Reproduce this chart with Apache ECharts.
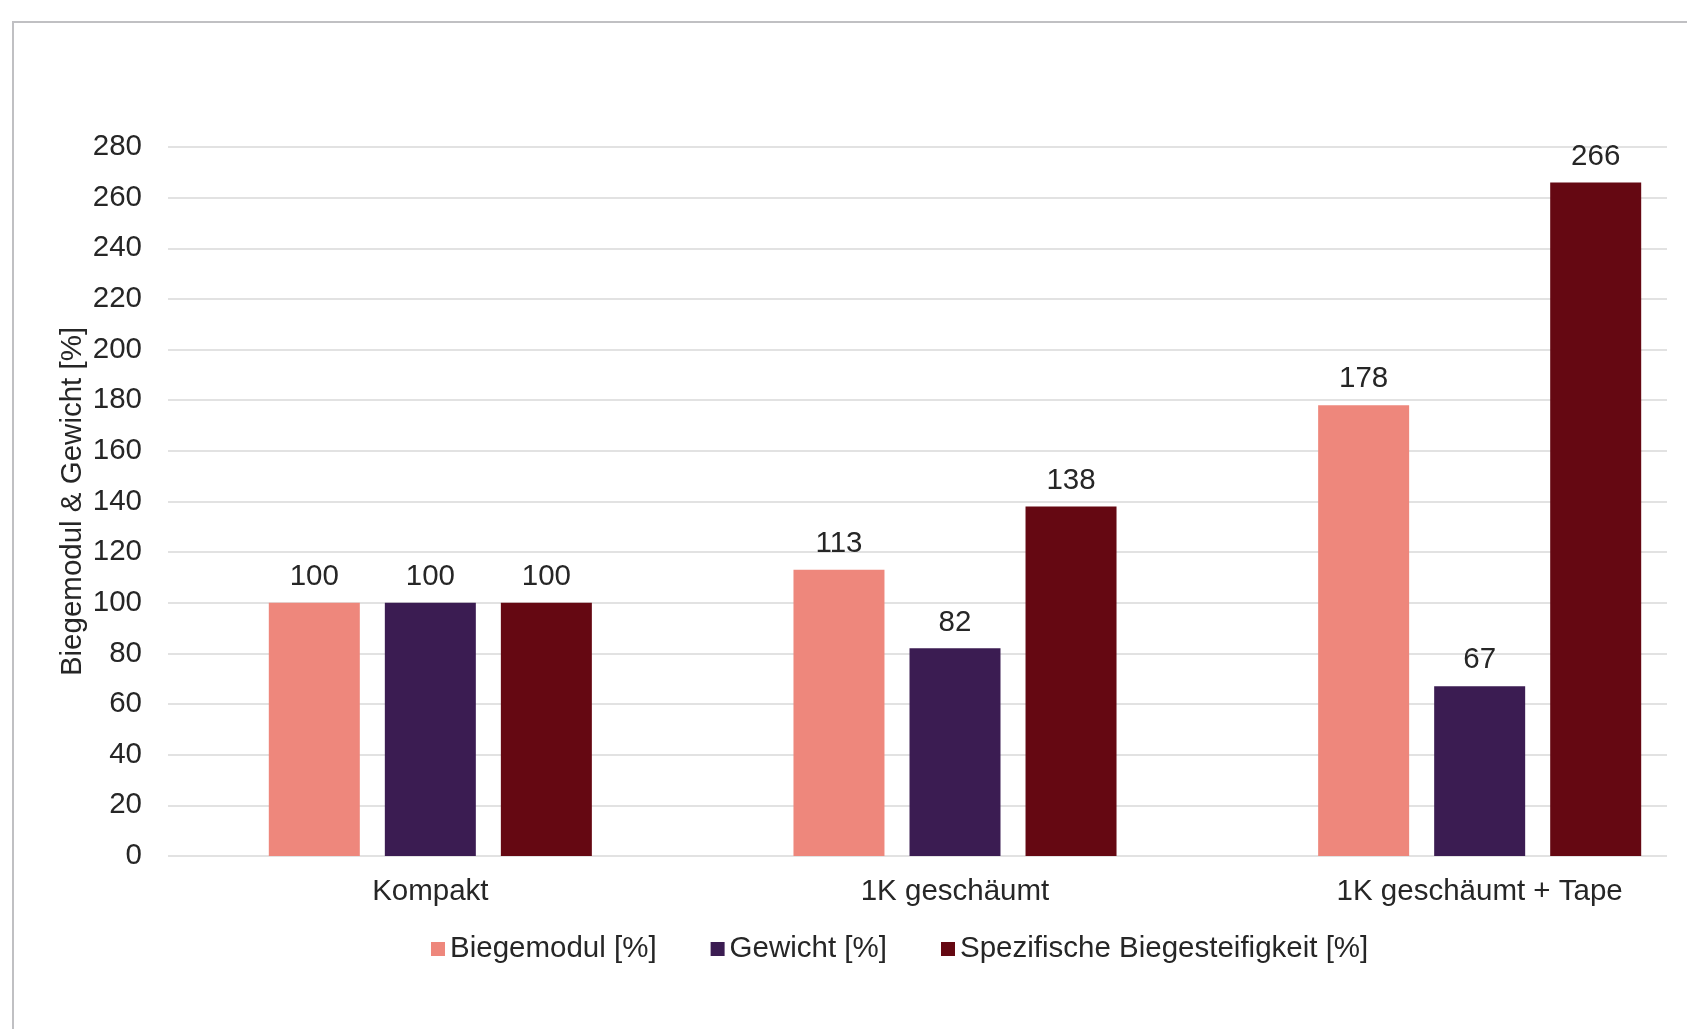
<!DOCTYPE html>
<html>
<head>
<meta charset="utf-8">
<title>Biegemodul & Gewicht</title>
<script src="https://cdn.jsdelivr.net/npm/echarts@6/dist/echarts.min.js"></script>
<style>
  html, body { margin: 0; padding: 0; background: #fff; overflow: hidden; }
  /* breiter als das Fenster: die Plotfläche läuft rechts über den Rand hinaus */
  #chart { width: 1760px; height: 1029px; }
</style>
</head>
<body>
<div id="chart"></div>
<script>
// Daten
const categories = ['Kompakt', '1K geschäumt', '1K geschäumt + Tape'];
const biegemodul = [100, 113, 178];
const gewicht = [100, 82, 67];
const spezSteifigkeit = [100, 138, 266];
const seriesNames = ['Biegemodul [%]', 'Gewicht [%]', 'Spezifische Biegesteifigkeit [%]'];
const colors = ['#EE877C', '#3B1C52', '#650812'];

const font = 'Liberation Sans, Arial, sans-serif';
const textColor = '#262626';
const fs = 29.5;

var myChart = echarts.init(document.getElementById('chart'));

function barSeries(name, data, color) {
    return {
        name: name,
        type: 'bar',
        xAxisIndex: 1,
        yAxisIndex: 1,
        data: data,
        barWidth: 91,
        barGap: '27.5%',
        itemStyle: { color: color },
        label: {
            show: true,
            position: 'top',
            distance: 11,
            color: textColor,
            fontFamily: font,
            fontSize: fs
        }
    };
}

const option = {
    backgroundColor: '#fff',
    animation: false,
    color: colors,
    graphic: [{
        type: 'rect',
        shape: { x: 13, y: 22, width: 1800, height: 1100 },
        style: { fill: 'none', stroke: '#c0c0c3', lineWidth: 2 },
        silent: true
    }],
    legend: {
        data: seriesNames,
        left: 426,
        top: 929,
        icon: 'rect',
        itemWidth: 14,
        itemHeight: 14,
        itemGap: 54,
        textStyle: { color: textColor, fontFamily: font, fontSize: fs }
    },
    // grid 0: Gitterlinien und y-Beschriftung, grid 1: Balken
    grid: [
        { left: 168, right: 93, top: 147, bottom: 173 },
        { left: 168, right: 18, top: 147, bottom: 173 }
    ],
    xAxis: [
        { type: 'category', gridIndex: 0, data: categories, show: false },
        {
            type: 'category',
            gridIndex: 1,
            data: categories,
            axisLine: { show: false },
            axisTick: { show: false },
            axisLabel: { color: textColor, fontFamily: font, fontSize: fs, margin: 21 }
        }
    ],
    yAxis: [
        {
            type: 'value',
            gridIndex: 0,
            min: 0,
            max: 280,
            interval: 20,
            name: 'Biegemodul & Gewicht [%]',
            nameLocation: 'middle',
            nameGap: 80,
            nameMoveOverlap: false,
            nameTextStyle: { color: textColor, fontFamily: font, fontSize: fs },
            axisLine: { show: false },
            axisTick: { show: false },
            axisLabel: { color: textColor, fontFamily: font, fontSize: fs, margin: 26 },
            splitLine: { lineStyle: { color: '#d9d9d9', width: 1.5 } }
        },
        {
            type: 'value',
            gridIndex: 1,
            min: 0,
            max: 280,
            interval: 20,
            show: false,
            splitLine: { show: false }
        }
    ],
    series: [
        barSeries(seriesNames[0], biegemodul, colors[0]),
        barSeries(seriesNames[1], gewicht, colors[1]),
        barSeries(seriesNames[2], spezSteifigkeit, colors[2])
    ]
};

myChart.setOption(option);
</script>
</body>
</html>
